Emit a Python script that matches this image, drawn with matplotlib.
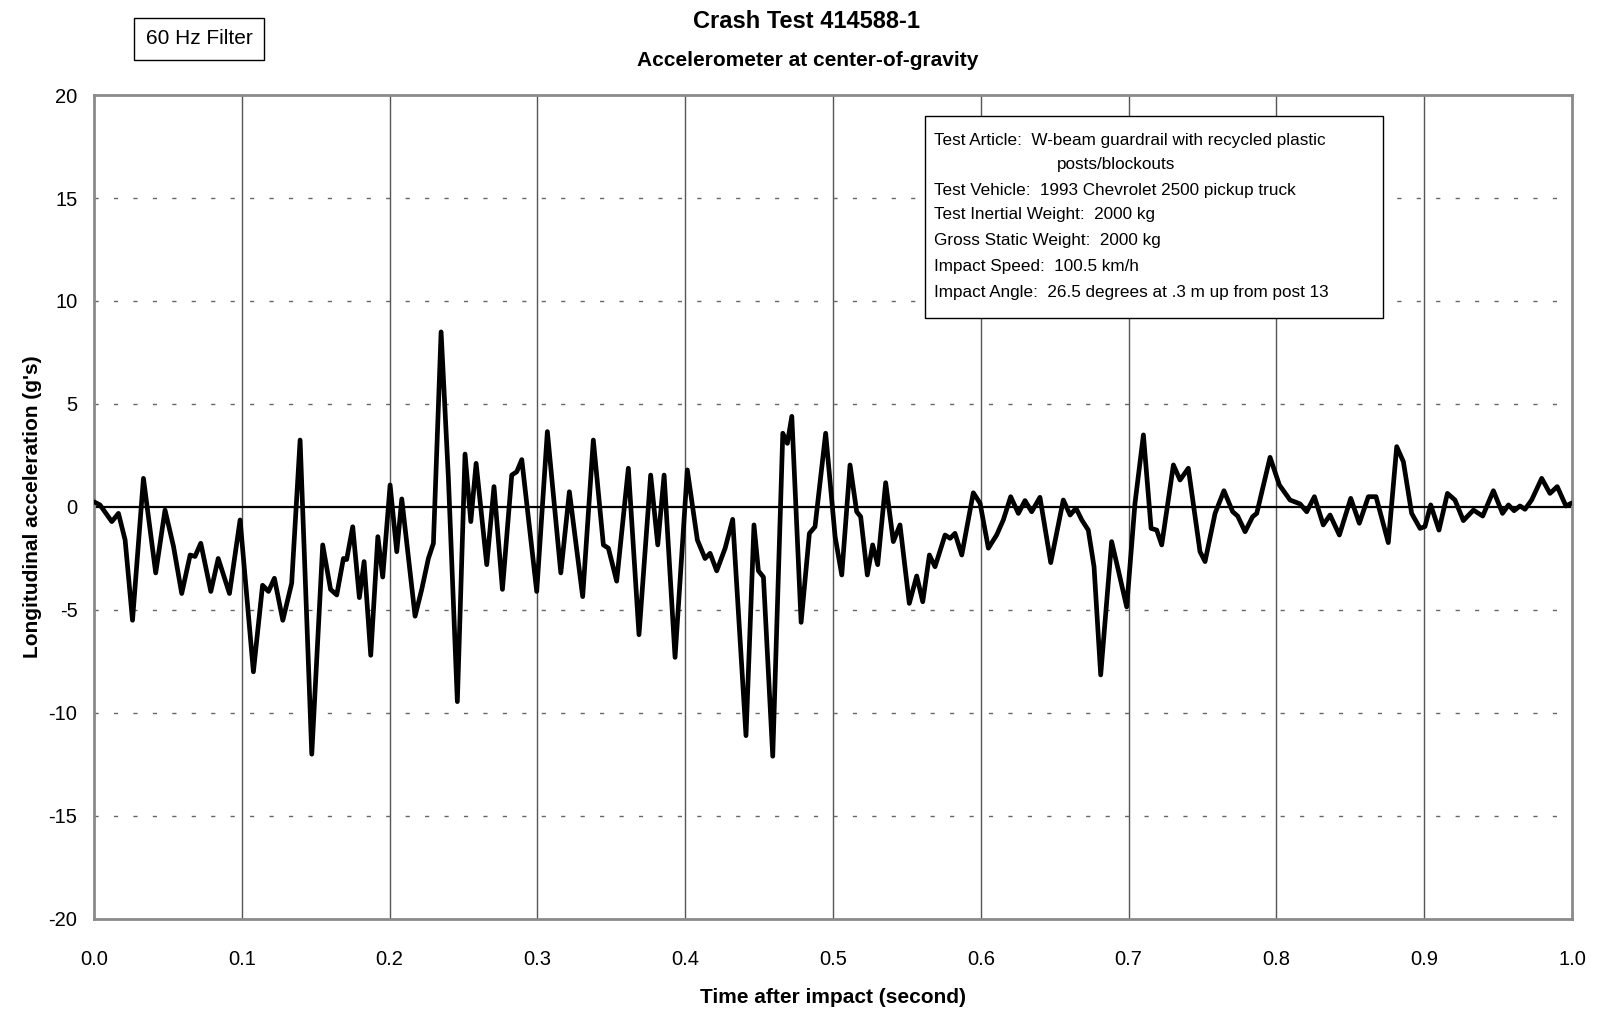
import matplotlib.pyplot as plt
from matplotlib.patches import Rectangle

plt.rcParams['font.family'] = ['Liberation Sans', 'DejaVu Sans']
plt.rcParams['axes.unicode_minus'] = False

# time after impact (s) and longitudinal acceleration (g's)
time_s = [
    0.000, 0.004, 0.012, 0.0165, 0.021, 0.026, 0.0334, 0.0417, 0.048, 0.0537,
    0.0593, 0.065, 0.0683, 0.0722, 0.079, 0.084, 0.0916, 0.0988, 0.1078, 0.114,
    0.118, 0.122, 0.1277, 0.1337, 0.1394, 0.1473, 0.1547, 0.160, 0.1642, 0.1687,
    0.1709, 0.175, 0.1795, 0.1827, 0.1872, 0.192, 0.1953, 0.2003, 0.2048, 0.2082,
    0.2172, 0.2217, 0.2262, 0.2296, 0.2348, 0.2397, 0.2458, 0.251, 0.2549, 0.2585,
    0.2657, 0.2706, 0.2763, 0.2826, 0.286, 0.2894, 0.2995, 0.3067, 0.3158, 0.3216,
    0.3306, 0.3378, 0.3446, 0.348, 0.3536, 0.3615, 0.3687, 0.3766, 0.3814, 0.3857,
    0.3931, 0.4014, 0.4082, 0.4134, 0.4168, 0.4213, 0.427, 0.4321, 0.4411, 0.4465,
    0.4495, 0.4529, 0.4592, 0.466, 0.4691, 0.4721, 0.4784, 0.484, 0.4878, 0.495,
    0.5014, 0.5059, 0.5115, 0.516, 0.5187, 0.5232, 0.5268, 0.5302, 0.5356, 0.5408,
    0.5453, 0.5516, 0.5566, 0.5607, 0.5652, 0.569, 0.5758, 0.5792, 0.5825, 0.5871,
    0.5949, 0.5995, 0.6051, 0.6107, 0.6152, 0.6202, 0.6254, 0.6299, 0.6344, 0.640,
    0.6473, 0.6558, 0.6604, 0.6644, 0.6683, 0.6727, 0.6766, 0.6811, 0.6885, 0.693,
    0.6987, 0.7043, 0.710, 0.7152, 0.719, 0.7224, 0.7303, 0.7348, 0.7404, 0.7483,
    0.7517, 0.7585, 0.7645, 0.7704, 0.7738, 0.7788, 0.7839, 0.7867, 0.7957, 0.802,
    0.8092, 0.816, 0.8205, 0.8257, 0.8317, 0.8363, 0.8426, 0.8503, 0.8561, 0.8622,
    0.8674, 0.8757, 0.8814, 0.8859, 0.8915, 0.8972, 0.9005, 0.9044, 0.910, 0.9157,
    0.9208, 0.9265, 0.9333, 0.9396, 0.9468, 0.953, 0.957, 0.9608, 0.9648, 0.9682,
    0.9727, 0.9795, 0.9851, 0.990, 0.9959, 1.000,
]
accel_g = [
    0.25, 0.10, -0.71, -0.31, -1.6, -5.5, 1.39, -3.2, -0.15, -1.9,
    -4.2, -2.33, -2.4, -1.76, -4.1, -2.5, -4.2, -0.63, -8.0, -3.8,
    -4.1, -3.46, -5.5, -3.7, 3.25, -12.0, -1.84, -4.0, -4.27, -2.5,
    -2.55, -0.96, -4.4, -2.65, -7.2, -1.44, -3.4, 1.07, -2.17, 0.39,
    -5.3, -4.0, -2.5, -1.76, 8.5, 1.47, -9.45, 2.57, -0.71, 2.12,
    -2.8, 0.99, -4.0, 1.55, 1.71, 2.3, -4.1, 3.66, -3.2, 0.74,
    -4.35, 3.25, -1.84, -2.0, -3.6, 1.88, -6.2, 1.55, -1.84, 1.55,
    -7.3, 1.8, -1.6, -2.5, -2.25, -3.1, -2.0, -0.6, -11.1, -0.87,
    -3.1, -3.4, -12.1, 3.58, 3.09, 4.4, -5.6, -1.28, -0.96, 3.58,
    -1.44, -3.3, 2.04, -0.23, -0.47, -3.3, -1.84, -2.8, 1.18, -1.68,
    -0.87, -4.68, -3.35, -4.6, -2.33, -2.9, -1.36, -1.52, -1.28, -2.33,
    0.69, 0.18, -2.0, -1.36, -0.63, 0.5, -0.31, 0.31, -0.23, 0.47,
    -2.7, 0.34, -0.39, -0.06, -0.63, -1.12, -2.9, -8.15, -1.68, -3.06,
    -4.85, 0.18, 3.5, -1.04, -1.12, -1.84, 2.04, 1.31, 1.88, -2.17,
    -2.65, -0.31, 0.79, -0.23, -0.44, -1.2, -0.47, -0.31, 2.41, 1.07,
    0.34, 0.15, -0.23, 0.5, -0.87, -0.39, -1.36, 0.42, -0.79, 0.5,
    0.5, -1.73, 2.93, 2.2, -0.31, -1.04, -0.95, 0.1, -1.12, 0.66,
    0.34, -0.66, -0.15, -0.44, 0.79, -0.31, 0.1, -0.18, 0.05, -0.11,
    0.34, 1.39, 0.66, 0.99, 0.05, 0.2,
]

x_ticks = [0.0, 0.1, 0.2, 0.3, 0.4, 0.5, 0.6, 0.7, 0.8, 0.9, 1.0]
x_tick_labels = ['0.0', '0.1', '0.2', '0.3', '0.4', '0.5', '0.6', '0.7', '0.8', '0.9', '1.0']
y_ticks = [-20, -15, -10, -5, 0, 5, 10, 15, 20]

info_lines = [
    "Test Article:  W-beam guardrail with recycled plastic",
    "posts/blockouts",
    "Test Vehicle:  1993 Chevrolet 2500 pickup truck",
    "Test Inertial Weight:  2000 kg",
    "Gross Static Weight:  2000 kg",
    "Impact Speed:  100.5 km/h",
    "Impact Angle:  26.5 degrees at .3 m up from post 13",
]

W, H = 1600, 1015
fig = plt.figure(figsize=(16, 10.15), dpi=100)
ax = fig.add_axes([0.0588, 0.0946, 0.9237, 0.8118])

# grid: solid verticals, sparse dashed horizontals, solid zero line
for xt in x_ticks[1:-1]:
    ax.axvline(xt, color='#555555', lw=1.0, zorder=1)
for yt in y_ticks[1:-1]:
    if yt == 0:
        ax.axhline(0, color='black', lw=1.6, zorder=2)
    else:
        ax.axhline(yt, color='#666666', lw=1.0, ls=(0, (3, 11)), zorder=1)

ax.plot(time_s, accel_g, color='black', lw=3.4, solid_joinstyle='round',
        solid_capstyle='round', zorder=3)

ax.set_xlim(0, 1.0)
ax.set_ylim(-20, 20)
ax.set_xticks(x_ticks)
ax.set_xticklabels(x_tick_labels)
ax.set_yticks(y_ticks)
ax.tick_params(axis='x', length=0, pad=22, labelsize=14.5)
ax.tick_params(axis='y', length=0, pad=12, labelsize=14.5)
for sp in ax.spines.values():
    sp.set_color('#8a8a8a')
    sp.set_linewidth(2.0)

ax.set_xlabel("Time after impact (second)", fontsize=15, fontweight='bold', labelpad=14)
ax.set_ylabel("Longitudinal acceleration (g's)", fontsize=15, fontweight='bold', labelpad=5)

fig.text(0.504, 0.979, "Crash Test 414588-1", ha='center', va='center',
         fontsize=17, fontweight='bold')
fig.text(0.505, 0.940, "Accelerometer at center-of-gravity", ha='center', va='center',
         fontsize=15, fontweight='bold')
fig.text(0.1245, 0.962, "60 Hz Filter", ha='center', va='center', fontsize=15,
         bbox=dict(boxstyle='square,pad=0.55', fc='white', ec='black', lw=1.0))

# info box (figure pixel positions converted to figure fraction)
box_l, box_t, box_r, box_b = 925, 116, 1383, 318
fig.patches.append(Rectangle((box_l / W, 1 - box_b / H), (box_r - box_l) / W,
                             (box_b - box_t) / H, transform=fig.transFigure,
                             fc='white', ec='black', lw=1.0, zorder=5))
line_y = [140, 165, 190, 215, 241, 266, 292]
line_x = [934, 1057, 934, 934, 934, 934, 934]
for txt, lx, ly in zip(info_lines, line_x, line_y):
    fig.text(lx / W, 1 - ly / H, txt, ha='left', va='center', fontsize=12.3, zorder=6)

fig.savefig('out.png', dpi=100)
